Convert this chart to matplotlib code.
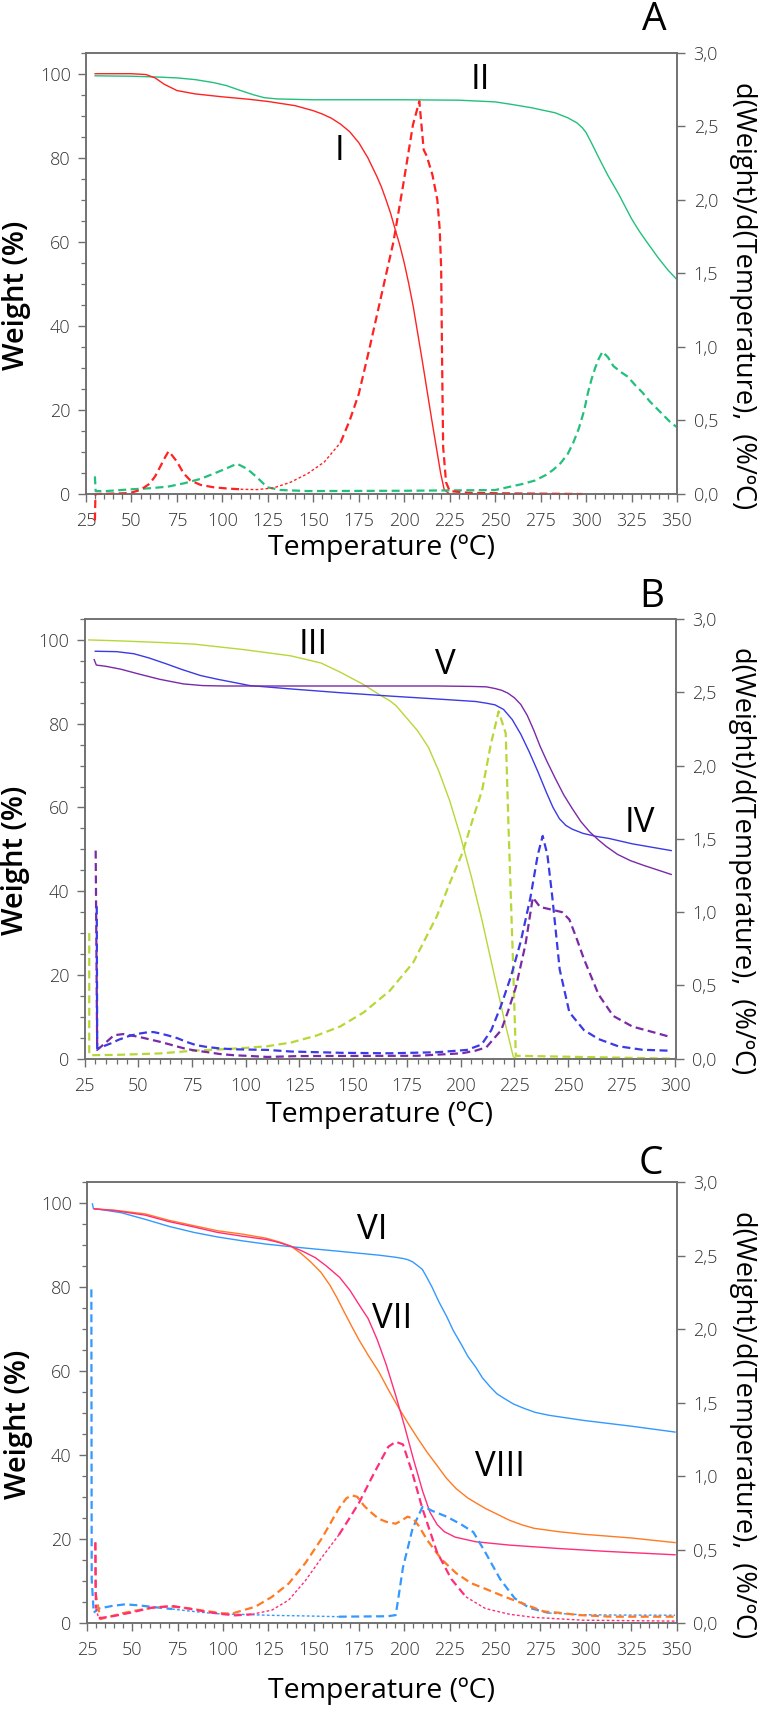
import matplotlib
matplotlib.use('Agg')
import matplotlib.pyplot as plt
from matplotlib.ticker import MultipleLocator, FuncFormatter, NullLocator
from matplotlib import font_manager

# ---------------- data ----------------
# Panel A
tA_I = [30, 40, 50, 58, 63, 68, 75, 85, 100, 115, 125, 140, 150, 155, 160, 165, 170, 175, 180, 185,
        187.5, 190, 192.5, 195, 197.5, 200, 202.5, 205, 210, 215, 220, 222, 225]
wA_I = [100, 100, 100, 99.8, 99, 97.5, 96, 95.2, 94.5, 93.9, 93.4, 92.4, 91.2, 90.4, 89.4, 88.0, 86.2,
        83.6, 80, 75.5, 73, 70, 66.8, 63, 59.3, 55, 50, 44.5, 31.5, 18, 5, 1, 0]
tA_II = [30, 50, 65, 75, 85, 95, 102, 110, 117, 123, 130, 150, 200, 230, 250, 259, 270, 283, 290, 295,
         298, 300, 303, 307, 312, 318, 321, 325, 329, 333, 337, 340, 345, 350]
wA_II = [99.5, 99.4, 99.2, 99.0, 98.6, 97.9, 97.2, 96.0, 95.0, 94.3, 94.0, 93.8, 93.8, 93.7, 93.3, 92.7,
         91.9, 90.7, 89.5, 88.3, 87.1, 86, 83.5, 80, 75.8, 71.3, 68.8, 65.5, 62.7, 60.2, 57.8, 56, 53.3, 51]
tA_dI = [29.9, 30.2, 40, 49, 55, 60, 63, 66, 68.5, 70.4, 72.5, 75, 78.7, 82.4, 88, 95, 103, 110, 119,
         128, 137.5, 146.7, 156, 165, 170, 175, 180.7, 188.7, 194, 199.4, 204.8, 208.3, 210.7, 212.3,
         215.5, 218.2, 219.5, 220.3, 220.8, 221.4, 223, 225, 235, 260, 298]
dA_I = [-0.18, 0.0, 0.003, 0.006, 0.028, 0.07, 0.12, 0.19, 0.25, 0.29, 0.26, 0.22, 0.14, 0.092, 0.062,
        0.046, 0.037, 0.032, 0.03, 0.041, 0.08, 0.137, 0.217, 0.35, 0.50, 0.68, 0.98, 1.42, 1.71, 2.1,
        2.51, 2.67, 2.34, 2.30, 2.17, 2.0, 1.8, 1.54, 0.93, 0.32, 0.08, 0.02, 0.008, 0.004, 0.0]
tA_dII = [29.9, 30.3, 36, 50, 60, 70, 79, 88, 95, 102.6, 108, 113.6, 119, 124.6, 132, 147, 200, 250, 258,
          265, 272, 278, 282, 286, 290, 293, 296, 299, 301, 303, 305, 307, 309, 312, 315, 319, 323, 327,
          331, 335, 339, 343, 347, 350]
dA_II = [0.12, 0.02, 0.02, 0.032, 0.039, 0.05, 0.073, 0.103, 0.137, 0.176, 0.206, 0.171, 0.114, 0.046,
         0.027, 0.02, 0.022, 0.027, 0.049, 0.068, 0.092, 0.13, 0.165, 0.21, 0.274, 0.35, 0.445, 0.57,
         0.687, 0.78, 0.857, 0.92, 0.967, 0.93, 0.87, 0.83, 0.797, 0.74, 0.69, 0.63, 0.58, 0.53, 0.48,
         0.455]

# Panel B
tB_III = [27, 40, 60, 76, 99, 121, 135, 144, 155, 162, 167, 170, 175, 180, 185, 190, 195, 200, 205, 210,
          215, 220, 224.5, 226, 300]
wB_III = [100, 99.8, 99.4, 99, 97.7, 96.2, 94.5, 92.3, 89.3, 87, 85.5, 84.3, 81.3, 78.3, 74.4, 68.5,
          61.5, 53, 43.5, 33, 21.5, 10, 0.5, 0, 0]
tB_IV = [30, 40, 48, 55, 63, 70, 79, 87, 94, 102, 121, 144, 167, 189, 207, 212, 216, 220, 224, 228, 232,
         236, 240, 243, 246, 249, 252, 257, 263, 269, 280, 298]
wB_IV = [97.3, 97.2, 96.7, 95.7, 94.3, 93, 91.5, 90.6, 89.9, 89.1, 88.3, 87.4, 86.6, 85.9, 85.3, 84.9,
         84.5, 83.4, 81, 77.5, 73.2, 68.5, 63.5, 60, 57.3, 55.7, 54.8, 53.8, 53.1, 52.6, 51.3, 49.7]
tB_V = [29.5, 30.5, 35, 42, 50, 60, 71, 80, 90, 120, 150, 190, 205, 212, 216, 219, 222, 225, 228, 231,
        234, 237, 240, 244, 248, 252, 256, 260, 264, 268, 273, 279, 285, 298]
wB_V = [95.3, 94, 93.7, 93, 91.9, 90.6, 89.5, 89.1, 89.0, 89.0, 89.0, 89.0, 88.9, 88.8, 88.4, 88, 87.3,
        86.2, 84.6, 82, 78.5, 74.6, 71.2, 67, 63, 59.7, 56.6, 54.2, 52.3, 50.6, 48.8, 47.3, 46.2, 44]
tB_dIII = [27.2, 27.2, 28, 40, 60, 76, 90, 99, 110, 121, 133, 144, 155, 167, 178, 189, 195, 201, 206,
           210, 214, 217.7, 221, 222.3, 224.5, 225.7, 300]
dB_III = [0.857, 0.03, 0.024, 0.026, 0.036, 0.055, 0.065, 0.073, 0.085, 0.11, 0.158, 0.22, 0.317, 0.463,
          0.657, 0.974, 1.2, 1.41, 1.65, 1.83, 2.14, 2.37, 2.22, 1.58, 0.61, 0.02, 0.0]
tB_dIV = [30.7, 30.9, 33, 37.3, 41, 45.8, 50, 54.2, 57, 60, 64, 68.4, 72, 76.8, 82, 88, 95, 110, 121, 145,
          167, 189, 203, 209.8, 214.3, 218.9, 223.4, 228, 232.5, 235.9, 238.2, 240.4, 242.7, 246.1,
          250.6, 257.4, 264.2, 273.3, 284.6, 298.2]
dB_IV = [1.04, 0.07, 0.08, 0.105, 0.13, 0.155, 0.17, 0.18, 0.182, 0.173, 0.158, 0.139, 0.117, 0.093,
         0.08, 0.07, 0.064, 0.06, 0.049, 0.04, 0.037, 0.044, 0.06, 0.097, 0.195, 0.365, 0.56, 0.80, 1.1,
         1.39, 1.52, 1.39, 1.1, 0.61, 0.317, 0.195, 0.134, 0.085, 0.061, 0.054]
tB_dV = [30.2, 30.9, 34.5, 38.7, 43, 50, 55, 59.9, 64, 68.4, 72, 76.8, 82, 88, 95, 100, 110, 125, 150,
         180, 200.7, 207, 212, 218.9, 222, 225.7, 230.2, 233.6, 237, 241.5, 247.2, 250.6, 254, 257.4,
         264.2, 271, 280, 289.1, 298.2]
dB_V = [1.42, 0.06, 0.105, 0.16, 0.168, 0.15, 0.133, 0.116, 0.1, 0.082, 0.068, 0.055, 0.045, 0.032,
        0.023, 0.02, 0.012, 0.018, 0.019, 0.02, 0.037, 0.055, 0.078, 0.195, 0.32, 0.487, 0.78, 1.1, 1.035,
        1.02, 1.0, 0.95, 0.82, 0.68, 0.438, 0.292, 0.219, 0.183, 0.146]

# Panel C
tC_VI = [28, 28.5, 30.4, 43.8, 57.2, 70.6, 84, 97.3, 110.7, 124.1, 137.5, 164.3, 185.8, 195, 199.2, 202,
         204.5, 207, 209.9, 212.5, 215.2, 219, 223.3, 227, 231.3, 235, 239.4, 243, 247.4, 251, 255.4,
         260, 266.2, 272, 279.6, 298.3, 325.1, 349.2]
wC_VI = [99.8, 98.7, 98.6, 97.7, 96.1, 94.4, 93, 91.9, 91, 90.2, 89.6, 88.5, 87.6, 87.1, 86.8, 86.5, 86,
         85.2, 84.2, 82.2, 80, 76.5, 73, 69.6, 66.4, 63.5, 60.9, 58.4, 56.2, 54.6, 53.4, 52.2, 51.1, 50.2,
         49.5, 48.3, 46.9, 45.5]
tC_VII = [29, 40, 57.2, 70, 84, 97, 110.7, 124.1, 130, 137.5, 144, 150.9, 157, 164.3, 170, 175, 180, 185,
          190, 195, 200, 205, 210, 214, 218, 222, 228, 239.4, 258.1, 284.9, 311.7, 349.2]
wC_VII = [98.6, 98.2, 97.1, 95.6, 94.3, 93, 92.1, 91.3, 90.7, 89.7, 88.5, 87, 85, 82.3, 79.2, 75.8, 72.5,
          67.5, 61.5, 54.5, 47, 39, 31.5, 26.5, 23.5, 21.8, 20.5, 19.4, 18.6, 17.8, 17.1, 16.3]
tC_VIII = [29, 40, 57.2, 70, 84, 97, 110.7, 124.1, 132, 137.5, 143, 148.3, 154, 159, 163, 167, 171, 175,
           180, 185.8, 191, 196.5, 202, 207.2, 212.5, 217.9, 223, 228.6, 235, 244.7, 250, 258, 265, 271.5,
           285, 298.3, 325.1, 349.2]
wC_VIII = [98.6, 98.3, 97.4, 95.9, 94.6, 93.4, 92.6, 91.6, 90.6, 89.7, 88, 86, 83.5, 80.4, 77.3, 73.9,
           70.6, 67.4, 63.8, 59.9, 55.7, 51.5, 47.6, 44.1, 40.7, 37.6, 34.6, 32, 29.8, 27.3, 26.2, 24.5,
           23.4, 22.6, 21.8, 21.2, 20.3, 19.2]
tC_dVI = [27.4, 27.6, 28.7, 31.4, 38.8, 46.1, 53.5, 62.7, 71.9, 81, 90.3, 99.4, 108.6, 127, 145.4, 163.8,
          191, 195.2, 197, 199.2, 204.5, 209.9, 212, 215.2, 223.3, 231.3, 238, 244.7, 252.8, 260.8,
          268.8, 279.6, 298, 320, 349.2]
dC_VI = [2.27, 0.3, 0.072, 0.10, 0.118, 0.129, 0.122, 0.109, 0.097, 0.084, 0.072, 0.063, 0.061, 0.054,
         0.05, 0.045, 0.048, 0.056, 0.2, 0.38, 0.645, 0.79, 0.785, 0.765, 0.725, 0.672, 0.62, 0.48, 0.3,
         0.17, 0.105, 0.07, 0.058, 0.056, 0.055]
tC_dVII = [29.6, 29.9, 31.5, 40, 50, 60, 71.9, 81, 90.3, 99.4, 106.7, 115.9, 127, 136.2, 145.4, 154.6,
           163.8, 170, 175, 183.1, 191.1, 195.2, 199.2, 204.5, 209.9, 217.9, 225.9, 233.9, 244.7, 258.1,
           271.5, 298.3, 349]
dC_VII = [0.55, 0.1, 0.034, 0.05, 0.075, 0.105, 0.118, 0.1, 0.079, 0.063, 0.054, 0.061, 0.09, 0.158,
          0.29, 0.45, 0.6, 0.72, 0.82, 1.017, 1.2, 1.234, 1.216, 1.017, 0.78, 0.486, 0.3, 0.18, 0.1, 0.061,
          0.04, 0.021, 0.015]
tC_dVIII = [29.6, 29.8, 32.4, 36, 44.3, 53.5, 62.7, 71.9, 81, 90.3, 99.4, 104.9, 117.8, 127, 136.2,
            145.4, 154.6, 163.8, 168, 171, 174, 177.7, 181, 185.8, 190, 195.2, 198.5, 201.8, 205, 208,
            212.6, 216.5, 220.6, 228.6, 236.7, 244.7, 255.4, 266.2, 276.9, 285, 296, 314, 349]
dC_VIII = [0.55, 0.2, 0.029, 0.04, 0.068, 0.09, 0.109, 0.113, 0.102, 0.084, 0.068, 0.066, 0.113, 0.18,
           0.27, 0.41, 0.58, 0.78, 0.85, 0.87, 0.86, 0.8, 0.76, 0.711, 0.69, 0.677, 0.7, 0.725, 0.71, 0.66,
           0.565, 0.5, 0.433, 0.34, 0.273, 0.234, 0.18, 0.13, 0.08, 0.072, 0.056, 0.045, 0.045]

# ---------------- styling ----------------
fonts = font_manager.fontManager.ttflist
names = {f.name for f in fonts}
def pick(*cands):
    for n in cands:
        if n in names:
            return n
    return 'DejaVu Sans'

def light_weight(fam):
    for f in fonts:
        if f.name == fam and (f.weight in (300, 'light') or 'Light' in str(f.fname)):
            return 'light'
    return 'normal'

TICKFONT = pick('Open Sans', 'Lato', 'DejaVu Sans')
TICKWEIGHT = light_weight(TICKFONT)
LABELFONT = pick('Open Sans', 'DejaVu Sans')
plt.rcParams['font.family'] = [TICKFONT, 'DejaVu Sans']

W, H = 762, 1711
fig = plt.figure(figsize=(W / 100, H / 100), dpi=100)

SPINE = '#6e6e6e'
TICKC = '#333333'
DASH = (3.6, 2.0)
FINE = (2.0, 1.6)

def make_axes(left, top, right, bottom, xmax, letter, letter_xy, xlabel_off):
    ax = fig.add_axes([left / W, 1 - bottom / H, (right - left) / W, (bottom - top) / H])
    ax2 = ax.twinx()
    ax.set_xlim(25, xmax)
    ax.set_ylim(0, 105)
    ax2.set_ylim(0, 3.0)
    ax.xaxis.set_major_locator(MultipleLocator(25))
    ax.xaxis.set_minor_locator(MultipleLocator(5))
    ax.yaxis.set_major_locator(MultipleLocator(20))
    ax.yaxis.set_minor_locator(MultipleLocator(5))
    ax2.yaxis.set_major_locator(MultipleLocator(0.5))
    ax2.yaxis.set_minor_locator(NullLocator())
    ax2.yaxis.set_major_formatter(FuncFormatter(lambda v, p: f'{v:.1f}'.replace('.', ',')))
    for a in (ax, ax2):
        for s in a.spines.values():
            s.set_color(SPINE)
            s.set_linewidth(1.1)
        a.tick_params(which='major', length=6, width=1.0, color=SPINE, labelsize=13,
                      labelcolor=TICKC, direction='out')
        a.tick_params(which='minor', length=3.5, width=0.9, color=SPINE, direction='out')
        for lab in a.get_xticklabels() + a.get_yticklabels():
            lab.set_fontweight(TICKWEIGHT)
    ax.tick_params(axis='x', which='major', pad=7)
    ax.tick_params(axis='y', which='major', pad=5)
    ax2.tick_params(axis='y', which='major', pad=6)
    ax.text(-0.117, 0.45, 'Weight (%)', rotation=90, ha='center', va='center',
            transform=ax.transAxes, fontsize=21, fontweight='semibold', family=LABELFONT)
    ax.text(1.112, 0.45, 'd(Weight)/d(Temperature),  (%/ºC)', rotation=270, ha='center', va='center',
            transform=ax.transAxes, fontsize=19.5, family=LABELFONT)
    ax.text(0.5, xlabel_off, 'Temperature (ºC)', ha='center', va='center',
            transform=ax.transAxes, fontsize=20.5, family=LABELFONT)
    fig.text(letter_xy[0] / W, 1 - letter_xy[1] / H, letter, ha='center', va='center',
             fontsize=28, family=LABELFONT)
    ax2.set_zorder(ax.get_zorder() + 1)
    ax.patch.set_visible(True)
    ax2.patch.set_visible(False)
    return ax, ax2

def solid(ax, t, w, c):
    ax.plot(t, w, color=c, lw=1.0, solid_joinstyle='round')

def dashed(ax, t, d, c, clip=True, fine=()):
    """Draw a derivative curve; temperature ranges listed in `fine` use a thin fine-dash style."""
    def in_fine(x):
        return any(a <= x <= b for a, b in fine)
    seg_t, seg_d, cur = [t[0]], [d[0]], in_fine(t[0])
    segs = []
    for x, y in zip(t[1:], d[1:]):
        f = in_fine(x)
        seg_t.append(x); seg_d.append(y)
        if f != cur:
            segs.append((cur, seg_t, seg_d))
            seg_t, seg_d, cur = [x], [y], f
    segs.append((cur, seg_t, seg_d))
    for f, st, sd in segs:
        if len(st) < 2:
            continue
        if f:
            ax.plot(st, sd, color=c, lw=1.0, linestyle=(0, FINE), clip_on=clip)
        else:
            ax.plot(st, sd, color=c, lw=1.6, linestyle=(0, DASH), clip_on=clip)

def roman(ax, x, y, s):
    ax.text(x, y, s, ha='center', va='center', fontsize=25, family=LABELFONT)

# ---- Panel A ----
RED, GREEN = '#ff2222', '#22c07c'
axA, axA2 = make_axes(86, 52.7, 677, 494, 350, 'A', (654, 20), -0.122)
solid(axA, tA_II, wA_II, GREEN)
solid(axA, tA_I, wA_I, RED)
dashed(axA2, tA_dII, dA_II, GREEN)
dashed(axA2, tA_dI, dA_I, RED, clip=False, fine=[(105, 160)])
roman(axA, 164.6, 81.5, 'I')
roman(axA, 242, 98.5, 'II')

# ---- Panel B ----
YG, BLUE, PURPLE = '#b6d836', '#3a3ae6', '#7a2aa6'
axB, axB2 = make_axes(84.5, 619, 675.5, 1058.7, 300, 'B', (652, 597), -0.128)
solid(axB, tB_III, wB_III, YG)
solid(axB, tB_IV, wB_IV, BLUE)
solid(axB, tB_V, wB_V, PURPLE)
dashed(axB2, tB_dIII, dB_III, YG)
dashed(axB2, tB_dV, dB_V, PURPLE)
dashed(axB2, tB_dIV, dB_IV, BLUE)
roman(axB, 131.6, 98.7, 'III')
roman(axB, 192.8, 94, 'V')
roman(axB, 283.5, 56.4, 'IV')

# ---- Panel C ----
SKY, ORANGE, PINK = '#3399ff', '#ff7a22', '#ff2d7a'
axC, axC2 = make_axes(87, 1182, 676.5, 1623.3, 350, 'C', (651, 1164), -0.153)
solid(axC, tC_VI, wC_VI, SKY)
solid(axC, tC_VIII, wC_VIII, ORANGE)
solid(axC, tC_VII, wC_VII, PINK)
dashed(axC2, tC_dVI, dC_VI, SKY, fine=[(70, 150), (275, 350)])
dashed(axC2, tC_dVIII, dC_VIII, ORANGE)
dashed(axC2, tC_dVII, dC_VII, PINK, fine=[(29.8, 31), (110, 160), (232, 350)])
roman(axC, 182.4, 93.5, 'VI')
roman(axC, 193, 72.5, 'VII')
roman(axC, 252.8, 37.1, 'VIII')

fig.savefig('out.png', dpi=100)
